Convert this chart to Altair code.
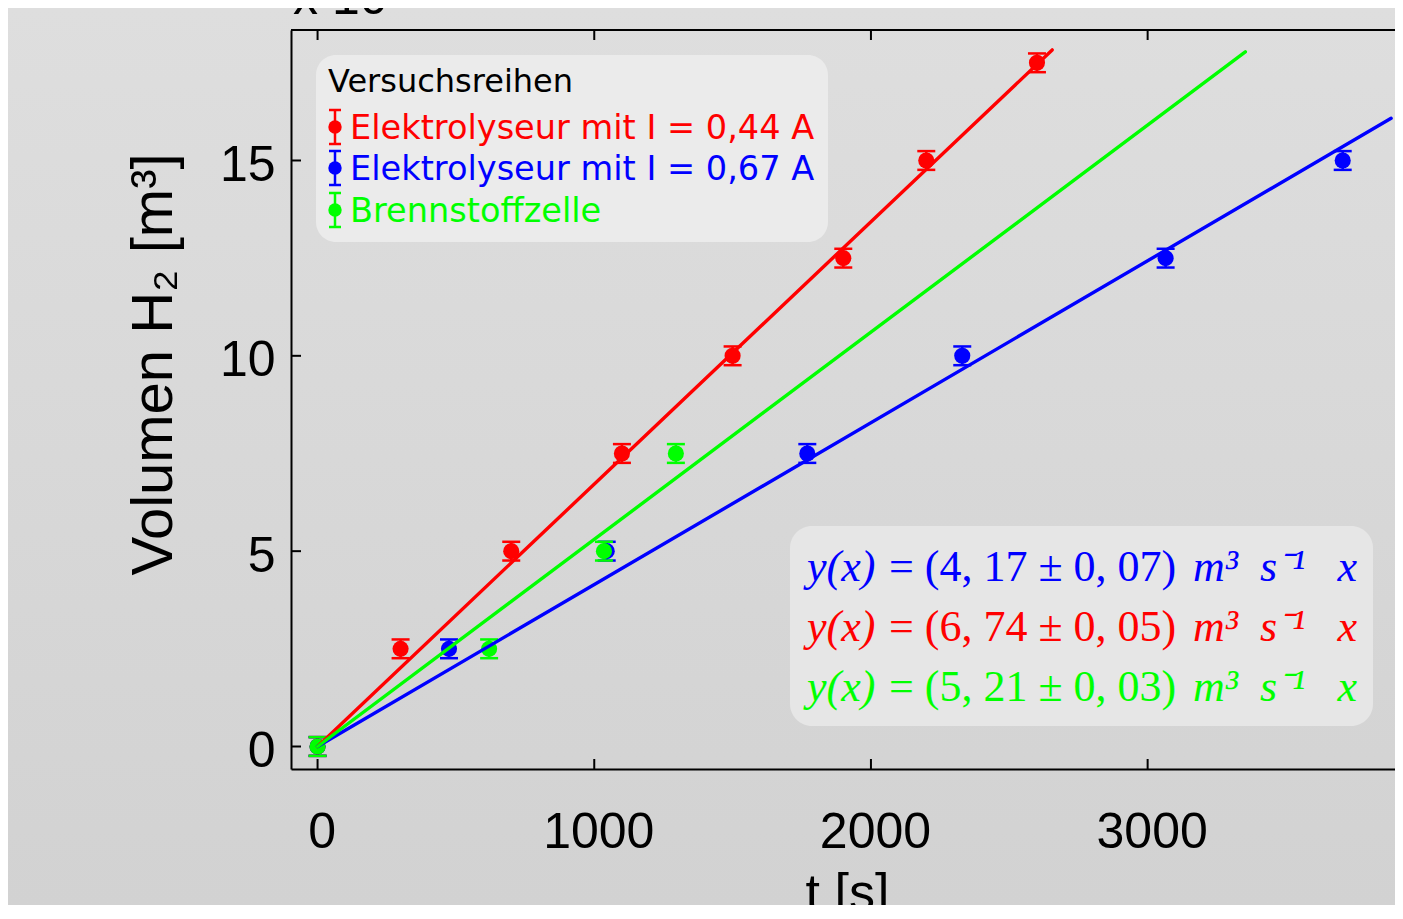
import altair as alt
import pandas as pd

# ---------------- data (volumes in units of 1e-6 m^3) ----------------
series_names = ["Elektrolyseur mit I = 0,44 A", "Elektrolyseur mit I = 0,67 A", "Brennstoffzelle"]
series_colors = ["#ff0000", "#0000ff", "#00ff00"]

red_t = [0, 300, 700, 1100, 1500, 1900, 2200, 2600]
red_v = [0, 2.5, 5, 7.5, 10, 12.5, 15, 17.5]
blue_t = [0, 475, 1045, 1770, 2330, 3065, 3705]
blue_v = [0, 2.5, 5, 7.5, 10, 12.5, 15]
green_t = [0, 620, 1035, 1295]
green_v = [0, 2.5, 5, 7.5]
v_err = 0.24

# fitted lines: start at origin, end points
fit_t_end = [2655, 3880, 3353]
fit_v_end = [17.83, 16.08, 17.78]

eq_numbers = ["= (4, 17 \u00b1 0, 07)", "= (6, 74 \u00b1 0, 05)", "= (5, 21 \u00b1 0, 03)"]
eq_colors = ["#0000ff", "#ff0000", "#00ff00"]

x_ticks = [0, 1000, 2000, 3000]
y_ticks = [0, 5, 10, 15]

# ---------------- tables ----------------
rows = []
for name, ts, vs in zip(series_names, [red_t, blue_t, green_t], [red_v, blue_v, green_v]):
    for t, v in zip(ts, vs):
        rows.append({"series": name, "t": t, "v": v, "lo": v - v_err, "hi": v + v_err})
pts = pd.DataFrame(rows)

lrows = []
for name, te, ve in zip(series_names, fit_t_end, fit_v_end):
    lrows.append({"series": name, "t": 0, "v": 0})
    lrows.append({"series": name, "t": te, "v": ve})
fits = pd.DataFrame(lrows)

xt = pd.DataFrame({"t": x_ticks})
yt = pd.DataFrame({"v": y_ticks})
one = pd.DataFrame({"a": [0]})

# ---------------- layout ----------------
W, H = 1104, 739
PAD = {"left": 283, "top": 22, "right": 0, "bottom": 136}
FONT = "Liberation Sans"

x_axis = alt.Axis(values=x_ticks, format="d", grid=False, ticks=False, tickSize=0, domain=True, zindex=2,
                  domainColor="black", domainWidth=2, labelFont=FONT, labelFontSize=50,
                  labelColor="black", labelPadding=38, labelOffset=4, labelFlush=False,
                  title="t [s]", titleFont=FONT, titleFontSize=52, titleFontWeight="normal",
                  titleColor="black", titleAlign="center", titleBaseline="alphabetic",
                  titleX=556, titleY=140)
y_axis = alt.Axis(values=y_ticks, format="d", grid=False, ticks=False, tickSize=0, domain=True, zindex=2,
                  domainColor="black", domainWidth=2, labelFont=FONT, labelFontSize=50,
                  labelColor="black", labelPadding=16, labelOffset=5, labelFlush=False,
                  title="Volumen H\u2082 [m\u00b3]", titleFont=FONT, titleFontSize=58,
                  titleFontWeight="normal", titleColor="black", titleAngle=270,
                  titleAlign="center", titleBaseline="alphabetic", titleX=-120, titleY=334)

xs = alt.Scale(domain=[-96, 3894], nice=False, zero=False)
ys = alt.Scale(domain=[-0.576, 18.34], nice=False, zero=False)
X = alt.X("t:Q", scale=xs, axis=x_axis)
Y = alt.Y("v:Q", scale=ys, axis=y_axis)
C = alt.Color("series:N", scale=alt.Scale(domain=series_names, range=series_colors), legend=None)

layers = []

# background gradient
bg = alt.Chart(one).mark_rect(
    fill=alt.LinearGradient(gradient="linear",
                            stops=[alt.GradientStop(color="#dedede", offset=0),
                                   alt.GradientStop(color="#d2d2d2", offset=1)],
                            x1=0, x2=0, y1=0, y2=1)
).encode(x=alt.value(-PAD["left"]), x2=alt.value(W), y=alt.value(-PAD["top"]), y2=alt.value(H + PAD["bottom"]))
layers.append(bg)

# error bars
layers.append(alt.Chart(pts).mark_rule(strokeWidth=2.5, opacity=1).encode(
    x=X, y=alt.Y("lo:Q", scale=ys, axis=y_axis), y2="hi:Q", color=C))
layers.append(alt.Chart(pts).mark_tick(orient="horizontal", size=18, thickness=2.5, opacity=1).encode(
    x=X, y=alt.Y("lo:Q", scale=ys, axis=y_axis), color=C))
layers.append(alt.Chart(pts).mark_tick(orient="horizontal", size=18, thickness=2.5, opacity=1).encode(
    x=X, y=alt.Y("hi:Q", scale=ys, axis=y_axis), color=C))
# points
layers.append(alt.Chart(pts).mark_circle(size=260, opacity=1).encode(x=X, y=Y, color=C))
# fit lines
layers.append(alt.Chart(fits).mark_line(strokeWidth=3.4, strokeCap="round").encode(x=X, y=Y, color=C, detail="series:N"))

# frame top + inward ticks
layers.append(alt.Chart(one).mark_rule(color="black", strokeWidth=2).encode(x=alt.value(0), x2=alt.value(W), y=alt.value(0)))
layers.append(alt.Chart(xt).mark_rule(color="black", strokeWidth=2).encode(x=X, y=alt.value(0), y2=alt.value(10)))
layers.append(alt.Chart(xt).mark_rule(color="black", strokeWidth=2).encode(x=X, y=alt.value(H - 10), y2=alt.value(H)))
layers.append(alt.Chart(yt).mark_rule(color="black", strokeWidth=2).encode(y=Y, x=alt.value(0), x2=alt.value(10)))

# legend box
layers.append(alt.Chart(one).mark_rect(cornerRadius=20, fill="#ebebeb").encode(
    x=alt.value(25), x2=alt.value(537), y=alt.value(25), y2=alt.value(212)))
layers.append(alt.Chart(one).mark_text(font="DejaVu Sans", fontSize=32, align="left", baseline="alphabetic", color="black").encode(
    x=alt.value(37), y=alt.value(62), text=alt.value("Versuchsreihen")))
leg_y = [97, 138, 180]
for name, col, yc in zip(series_names, series_colors, leg_y):
    layers.append(alt.Chart(one).mark_rule(color=col, strokeWidth=2.5).encode(
        x=alt.value(44), y=alt.value(yc - 17), y2=alt.value(yc + 17)))
    layers.append(alt.Chart(one).mark_rule(color=col, strokeWidth=2.5).encode(
        x=alt.value(38), x2=alt.value(50), y=alt.value(yc - 17)))
    layers.append(alt.Chart(one).mark_rule(color=col, strokeWidth=2.5).encode(
        x=alt.value(38), x2=alt.value(50), y=alt.value(yc + 17)))
    layers.append(alt.Chart(one).mark_circle(size=180, opacity=1, color=col).encode(
        x=alt.value(44), y=alt.value(yc)))
    layers.append(alt.Chart(one).mark_text(font="DejaVu Sans", fontSize=33.6, align="left", baseline="alphabetic", color=col).encode(
        x=alt.value(59), y=alt.value(yc + 12), text=alt.value(name)))

# equation box
layers.append(alt.Chart(one).mark_rect(cornerRadius=22, fill="#e6e6e6").encode(
    x=alt.value(499), x2=alt.value(1082), y=alt.value(496), y2=alt.value(696)))
eq_y = [551, 611, 671]
for num, col, yb in zip(eq_numbers, eq_colors, eq_y):
    def seg(txt, x, italic, align="left"):
        kw = dict(font="Liberation Serif", fontSize=44, align=align, baseline="alphabetic", color=col)
        if italic:
            kw["fontStyle"] = "italic"
        return alt.Chart(one).mark_text(**kw).encode(x=alt.value(x), y=alt.value(yb), text=alt.value(txt))
    layers.append(seg("y(x)", 516, True))
    layers.append(seg(num, 598, False))
    layers.append(seg("m\u00b3", 902, True))
    layers.append(seg("s\u207b\u00b9", 969, True))
    layers.append(seg("x", 1066, True, "right"))

# exponent label (mostly cut off at the top)
layers.append(alt.Chart(one).mark_text(font=FONT, fontSize=50, align="left", baseline="alphabetic", color="black").encode(
    x=alt.value(2), y=alt.value(-16), text=alt.value("x 10\u207b\u2076")))

chart = alt.layer(*layers).properties(
    width=W, height=H,
    autosize=alt.AutoSizeParams(type="none"),
    padding=PAD,
    background="#d8d8d8",
).configure_view(stroke=None)

chart.save("out.html", embed_options={"renderer": "svg", "actions": False})
